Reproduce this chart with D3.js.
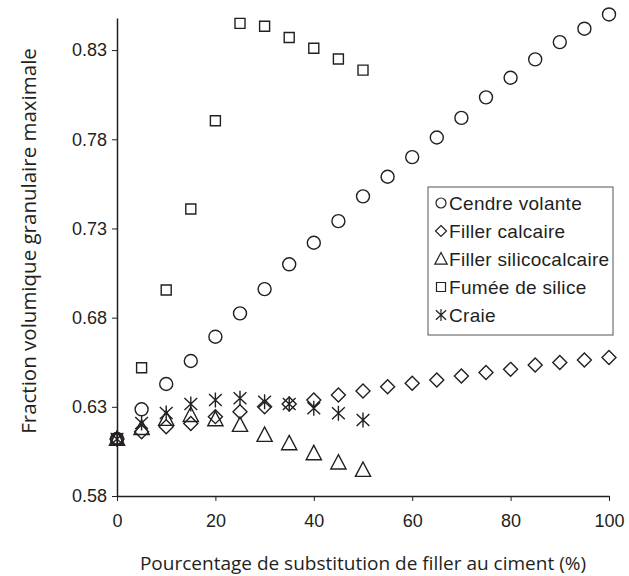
<!DOCTYPE html>
<html>
<head>
<meta charset="utf-8">
<script src="https://cdn.jsdelivr.net/npm/d3@7"></script>
<style>
  body { margin: 0; background: #fff; }
  svg { display: block; }
</style>
</head>
<body>
<div id="chart"></div>
<script>
var w = 629, h = 576;

// Substitution percentages
var pctFull = [0, 5, 10, 15, 20, 25, 30, 35, 40, 45, 50, 55, 60, 65, 70, 75, 80, 85, 90, 95, 100];
var pctHalf = [0, 5, 10, 15, 20, 25, 30, 35, 40, 45, 50];

// Series values
var cendreVolante = [0.612, 0.6286, 0.6428, 0.6557, 0.6693, 0.6824, 0.696, 0.7099, 0.722, 0.7341, 0.748,
                     0.759, 0.770, 0.781, 0.792, 0.8035, 0.8145, 0.8248, 0.8345, 0.842, 0.850];
var fillerCalcaire = [0.612, 0.616, 0.6188, 0.6207, 0.6245, 0.6273, 0.630, 0.6316, 0.6338, 0.6366, 0.6389,
                      0.6413, 0.6432, 0.645, 0.6473, 0.6493, 0.651, 0.6534, 0.6549, 0.6562, 0.6577];
var fillerSilico = [0.612, 0.6181, 0.6232, 0.6254, 0.623, 0.6198, 0.6142, 0.6095, 0.6039, 0.5987, 0.5946];
var fumeeSilice = [0.612, 0.6519, 0.6955, 0.7409, 0.7904, 0.845, 0.8434, 0.8371, 0.831, 0.825, 0.8188];
var craie = [0.612, 0.6209, 0.6265, 0.6316, 0.6338, 0.6348, 0.6329, 0.6316, 0.6292, 0.6264, 0.6226];

var seriesNames = ["Cendre volante", "Filler calcaire", "Filler silicocalcaire", "Fumée de silice", "Craie"];
var xTicks = [0, 20, 40, 60, 80, 100];
var yTicks = [0.58, 0.63, 0.68, 0.73, 0.78, 0.83];

// Marker shapes (outline symbols), size = diameter here
var circleSym = {
  draw: function(ctx, s) {
    var r = s / 2;
    ctx.moveTo(r, 0);
    ctx.arc(0, 0, r, 0, 2 * Math.PI);
  }
};
var diamondSym = {
  draw: function(ctx, s) {
    var r = s / 2;
    ctx.moveTo(0, -r); ctx.lineTo(r, 0); ctx.lineTo(0, r); ctx.lineTo(-r, 0); ctx.closePath();
  }
};
var triangleSym = {
  draw: function(ctx, s) {
    var r = s / 2;
    ctx.moveTo(0, -r); ctx.lineTo(r * 0.95, r * 0.8); ctx.lineTo(-r * 0.95, r * 0.8); ctx.closePath();
  }
};
var squareSym = {
  draw: function(ctx, s) {
    var r = s / 2;
    ctx.rect(-r, -r, s, s);
  }
};
var starSym = {
  draw: function(ctx, s) {
    var r = s / 2, wx = r * 0.85;
    ctx.moveTo(0, -r); ctx.lineTo(0, r);
    ctx.moveTo(-wx, -r * 0.8); ctx.lineTo(wx, r * 0.8);
    ctx.moveTo(wx, -r * 0.8); ctx.lineTo(-wx, r * 0.8);
  }
};

var series = [
  { name: seriesNames[0], x: pctFull, y: cendreVolante, sym: circleSym, size: 13, lsize: 10 },
  { name: seriesNames[1], x: pctFull, y: fillerCalcaire, sym: diamondSym, size: 14, lsize: 11 },
  { name: seriesNames[2], x: pctHalf, y: fillerSilico, sym: triangleSym, size: 16, lsize: 13 },
  { name: seriesNames[3], x: pctHalf, y: fumeeSilice, sym: squareSym, size: 10, lsize: 9 },
  { name: seriesNames[4], x: pctHalf, y: craie, sym: starSym, size: 15, lsize: 12 }
];

var x = d3.scaleLinear().domain([0, 100]).range([117, 609]);
var y = d3.scaleLinear().domain([0.58, 0.848]).range([496, 18]);

var svg = d3.select("#chart")
  .append("svg")
  .attr("width", w)
  .attr("height", h);

// Axes
svg.append("g")
  .attr("transform", "translate(0," + y(0.58) + ")")
  .call(d3.axisBottom(x).tickValues(xTicks).tickSize(5).tickSizeOuter(0).tickPadding(13));

svg.append("g")
  .attr("transform", "translate(" + x(0) + ",0)")
  .call(d3.axisLeft(y).tickValues(yTicks).tickSize(5).tickSizeOuter(0).tickPadding(5)
    .tickFormat(d3.format(".2f")));

svg.selectAll(".domain").attr("stroke", "#231f20").attr("stroke-width", 1.5);
svg.selectAll(".tick line").attr("stroke", "#231f20").attr("stroke-width", 1);
svg.selectAll(".tick text")
  .attr("fill", "#231f20")
  .style("font-family", "'Liberation Sans', Arial, sans-serif")
  .style("font-size", "18px");

// Axis titles
svg.append("text")
  .attr("x", 363)
  .attr("y", 570)
  .attr("text-anchor", "middle")
  .style("font-family", "'Open Sans', sans-serif")
  .style("font-size", "19px")
  .attr("fill", "#231f20")
  .text("Pourcentage de substitution de filler au ciment (%)");

svg.append("text")
  .attr("transform", "translate(36,241) rotate(-90)")
  .attr("text-anchor", "middle")
  .style("font-family", "'Open Sans', sans-serif")
  .style("font-size", "20.5px")
  .attr("fill", "#231f20")
  .text("Fraction volumique granulaire maximale");

// Points
series.forEach(function(s) {
  var sym = d3.symbol().type(s.sym).size(s.size);
  svg.append("g")
    .selectAll("path")
    .data(s.y)
    .enter()
    .append("path")
    .attr("d", sym)
    .attr("transform", function(d, i) {
      return "translate(" + x(s.x[i]) + "," + y(d) + ")";
    })
    .attr("fill", "none")
    .attr("stroke", "#231f20")
    .attr("stroke-width", 1.4);
});

// Legend
var legend = svg.append("g").attr("transform", "translate(428,187)");
legend.append("rect")
  .attr("width", 185)
  .attr("height", 148)
  .attr("fill", "#fff")
  .attr("stroke", "#555")
  .attr("stroke-width", 1);

var items = legend.selectAll(".item")
  .data(series)
  .enter()
  .append("g")
  .attr("transform", function(d, i) { return "translate(0," + (16 + i * 28) + ")"; });

items.append("path")
  .attr("d", function(d) { return d3.symbol().type(d.sym).size(d.lsize)(); })
  .attr("transform", "translate(13,0)")
  .attr("fill", "none")
  .attr("stroke", "#231f20")
  .attr("stroke-width", 1.2);

items.append("text")
  .attr("x", 21)
  .attr("y", 6.5)
  .style("font-family", "'Liberation Sans', Arial, sans-serif")
  .style("font-size", "19px")
  .style("letter-spacing", "0.3px")
  .attr("fill", "#231f20")
  .text(function(d) { return d.name; });
</script>
</body>
</html>
